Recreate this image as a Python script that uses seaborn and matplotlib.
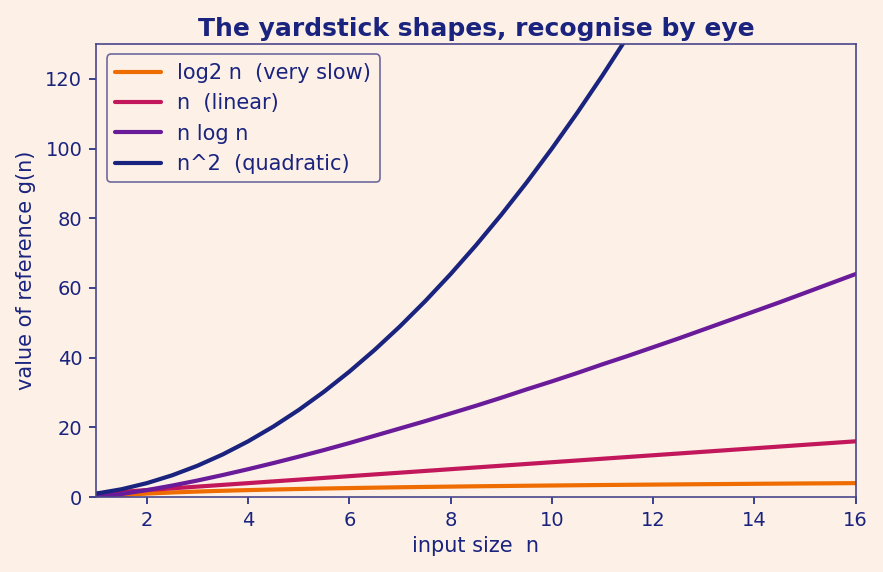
import pandas as pd
import seaborn as sns
import matplotlib
matplotlib.use("Agg")
import matplotlib.pyplot as plt

# values every half step of n
n_values = [1, 1.5, 2, 2.5, 3, 3.5, 4, 4.5, 5, 5.5, 6, 6.5, 7, 7.5, 8, 8.5,
            9, 9.5, 10, 10.5, 11, 11.5, 12, 12.5, 13, 13.5, 14, 14.5, 15, 15.5, 16]
log2_vals = [0, 0.58, 1, 1.32, 1.58, 1.81, 2, 2.17, 2.32, 2.46, 2.58, 2.70,
             2.81, 2.91, 3, 3.09, 3.17, 3.25, 3.32, 3.39, 3.46, 3.52, 3.58,
             3.64, 3.70, 3.75, 3.81, 3.86, 3.91, 3.95, 4]
linear_vals = [1, 1.5, 2, 2.5, 3, 3.5, 4, 4.5, 5, 5.5, 6, 6.5, 7, 7.5, 8, 8.5,
               9, 9.5, 10, 10.5, 11, 11.5, 12, 12.5, 13, 13.5, 14, 14.5, 15, 15.5, 16]
nlogn_vals = [0, 0.88, 2, 3.3, 4.75, 6.33, 8, 9.76, 11.6, 13.5, 15.5, 17.6,
              19.7, 21.8, 24, 26.2, 28.5, 30.9, 33.2, 35.6, 38.1, 40.5, 43.0,
              45.5, 48.1, 50.7, 53.3, 55.9, 58.6, 61.3, 64]
quad_vals = [1, 2.25, 4, 6.25, 9, 12.25, 16, 20.25, 25, 30.25, 36, 42.25, 49,
             56.25, 64, 72.25, 81, 90.25, 100, 110.25, 121, 132.25, 144, 156.25,
             169, 182.25, 196, 210.25, 225, 240.25, 256]
labels = ["log2 n  (very slow)", "n  (linear)", "n log n", "n^2  (quadratic)"]
colors = ["#ef6c00", "#c2185b", "#6a1b9a", "#1a237e"]

bg = "#fdf1e7"
ink = "#1a237e"
edge = "#4a468a"

rows = []
for lab, vals in zip(labels, [log2_vals, linear_vals, nlogn_vals, quad_vals]):
    for n, v in zip(n_values, vals):
        rows.append({"n": n, "value": v, "shape": lab})
df = pd.DataFrame(rows)

sns.set_theme(style="white")
plt.rcParams["font.family"] = ["DejaVu Sans"]

fig = plt.figure(figsize=(8.83, 5.72), dpi=100, facecolor=bg)
ax = fig.add_axes([0.109, 0.131, 0.86, 0.792])
ax.set_facecolor(bg)

sns.lineplot(data=df, x="n", y="value", hue="shape", hue_order=labels,
             palette=colors, linewidth=3, ax=ax)

ax.set_xlim(1, 16)
ax.set_ylim(0, 130)
ax.set_xticks([2, 4, 6, 8, 10, 12, 14, 16])
ax.set_yticks([0, 20, 40, 60, 80, 100, 120])
ax.tick_params(colors=ink, labelsize=14, length=5, width=1.2, direction="out",
               bottom=True, left=True, pad=5)
for s in ax.spines.values():
    s.set_color(edge)
    s.set_linewidth(1.2)

ax.set_xlabel("input size  n", color=ink, fontsize=15)
ax.set_ylabel("value of reference g(n)", color=ink, fontsize=15, labelpad=7)
ax.set_title("The yardstick shapes, recognise by eye", color=ink,
             fontsize=18, fontweight="bold", pad=6)

leg = ax.legend(loc="upper left", fontsize=15, frameon=True, facecolor=bg,
                edgecolor=edge, labelcolor=ink, handlelength=2.2)
leg.get_frame().set_linewidth(1.2)

fig.savefig("out.png", dpi=100, facecolor=bg)
